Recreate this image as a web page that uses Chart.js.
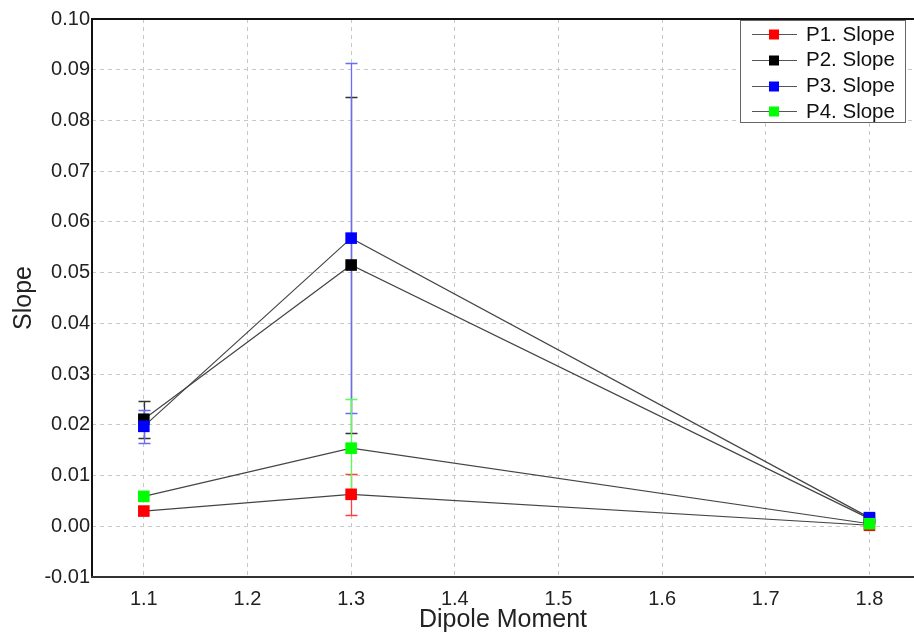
<!DOCTYPE html>
<html>
<head>
<meta charset="utf-8">
<script src="https://cdn.jsdelivr.net/npm/chart.js@4.4.1/dist/chart.umd.min.js"></script>
<style>
html,body{margin:0;padding:0;background:#fff;}
#wrap{width:914px;height:632px;}
</style>
</head>
<body>
<div id="wrap"><canvas id="c" width="914" height="632"></canvas></div>
<script>
// ---- data ----
const dipoleMoments = [1.1, 1.3, 1.8];
const seriesNames = ['P1. Slope', 'P2. Slope', 'P3. Slope', 'P4. Slope'];
const p1Values = [0.0030, 0.0063, 0.0002];
const p2Values = [0.0211, 0.0515, 0.0015];
const p3Values = [0.0197, 0.0568, 0.0017];
const p4Values = [0.0059, 0.0154, 0.0005];
const p1Errors = [0, 0.0040, 0];
const p2Errors = [0.0036, 0.0332, 0];
const p3Errors = [0.0033, 0.0345, 0];
const p4Errors = [0, 0.0096, 0];
const xTickValues = [1.1, 1.2, 1.3, 1.4, 1.5, 1.6, 1.7, 1.8];
const yTickValues = [-0.01, 0.00, 0.01, 0.02, 0.03, 0.04, 0.05, 0.06, 0.07, 0.08, 0.09, 0.10];

const markerColors = ['#ff0000', '#000000', '#0000ff', '#00ff00'];
const errorColors = ['#ff4040', '#333333', '#6a6aff', '#55ff55'];
const errorDrawOrder = [0, 1, 2, 3];
const markerStacking = [3, 2, 1, 0]; // lower = drawn on top
const allValues = [p1Values, p2Values, p3Values, p4Values];
const allErrors = [p1Errors, p2Errors, p3Errors, p4Errors];

const FONT = "'Liberation Sans', Arial, Helvetica, sans-serif";

const datasets = allValues.map((vals, i) => ({
  label: seriesNames[i],
  order: markerStacking[i],
  data: dipoleMoments.map((x, j) => ({x: x, y: vals[j]})),
  borderColor: '#444444',
  borderWidth: 1.2,
  backgroundColor: markerColors[i],
  pointBackgroundColor: markerColors[i],
  pointBorderColor: markerColors[i],
  pointBorderWidth: 0,
  pointStyle: 'rect',
  pointRadius: 8.2,
  pointHoverRadius: 8.2,
  tension: 0,
  fill: false,
  clip: false
}));

const errorBars = {
  id: 'errorBars',
  beforeDatasetsDraw(chart) {
    const ctx = chart.ctx;
    const xs = chart.scales.x, ys = chart.scales.y;
    ctx.save();
    ctx.setLineDash([]);
    ctx.lineWidth = 1.3;
    errorDrawOrder.forEach(i => {
      const vals = allValues[i], errs = allErrors[i];
      ctx.strokeStyle = errorColors[i];
      dipoleMoments.forEach((xv, j) => {
        const e = errs[j];
        if (!e) return;
        const px = Math.round(xs.getPixelForValue(xv)) + 0.5;
        const yt = Math.round(ys.getPixelForValue(vals[j] + e)) + 0.5;
        const yb = Math.round(ys.getPixelForValue(vals[j] - e)) + 0.5;
        ctx.beginPath();
        ctx.moveTo(px, yt); ctx.lineTo(px, yb);
        ctx.moveTo(px - 6, yt); ctx.lineTo(px + 6, yt);
        ctx.moveTo(px - 6, yb); ctx.lineTo(px + 6, yb);
        ctx.stroke();
      });
    });
    ctx.restore();
  }
};

const frameAndLegend = {
  id: 'frameAndLegend',
  afterDraw(chart) {
    const ctx = chart.ctx;
    const a = chart.chartArea;
    ctx.save();
    ctx.setLineDash([]);
    // frame
    ctx.strokeStyle = '#111';
    ctx.lineWidth = 2;
    ctx.beginPath();
    ctx.moveTo(a.left, a.top); ctx.lineTo(a.right, a.top);
    ctx.moveTo(a.left, a.top - 1); ctx.lineTo(a.left, a.bottom + 1);
    ctx.stroke();
    ctx.strokeStyle = '#333';
    ctx.beginPath();
    ctx.moveTo(a.left - 1, a.bottom); ctx.lineTo(a.right, a.bottom);
    ctx.stroke();
    // legend
    const bx = 740.5, by = 20.5, bw = 165, bh = 102;
    ctx.fillStyle = '#fff';
    ctx.fillRect(bx, by, bw, bh);
    ctx.strokeStyle = '#666';
    ctx.lineWidth = 1;
    ctx.strokeRect(bx, by, bw, bh);
    ctx.font = '20.5px ' + FONT;
    ctx.textBaseline = 'middle';
    ctx.textAlign = 'left';
    seriesNames.forEach((name, i) => {
      const cy = 34 + i * 25.8;
      ctx.strokeStyle = '#555';
      ctx.lineWidth = 1.2;
      ctx.beginPath();
      ctx.moveTo(752, Math.round(cy) + 0.5); ctx.lineTo(797, Math.round(cy) + 0.5);
      ctx.stroke();
      ctx.fillStyle = markerColors[i];
      ctx.fillRect(769, Math.round(cy) - 4.5, 10, 10);
      ctx.fillStyle = '#111';
      ctx.fillText(name, 806, cy + 1);
    });
    ctx.restore();
  }
};

new Chart(document.getElementById('c'), {
  type: 'line',
  data: {datasets: datasets},
  plugins: [errorBars, frameAndLegend],
  options: {
    responsive: false,
    animation: false,
    devicePixelRatio: 1,
    layout: {autoPadding: false, padding: {top: 19, right: 0, left: 0, bottom: 0}},
    plugins: {legend: {display: false}, tooltip: {enabled: false}},
    scales: {
      x: {
        type: 'linear',
        min: 1.05,
        max: 1.843,
        afterBuildTicks: s => { s.ticks = xTickValues.map(v => ({value: v})); },
        afterFit: s => { s.height = 55; s.paddingRight = 0; s.paddingLeft = 0; },
        grid: {color: '#c8c8c8', lineWidth: 1, drawTicks: false},
        border: {display: false, dash: [4, 4]},
        ticks: {
          padding: 10,
          color: '#222',
          font: {family: FONT, size: 20},
          callback: v => Number(v).toFixed(1)
        },
        title: {
          display: true,
          text: 'Dipole Moment',
          color: '#222',
          font: {family: FONT, size: 25},
          padding: {top: 0, bottom: -3}
        }
      },
      y: {
        type: 'linear',
        min: -0.01,
        max: 0.10,
        afterBuildTicks: s => { s.ticks = yTickValues.map(v => ({value: v})); },
        afterFit: s => { s.width = 92; },
        grid: {color: '#c8c8c8', lineWidth: 1, drawTicks: false},
        border: {display: false, dash: [4, 4]},
        ticks: {
          padding: 2,
          color: '#222',
          font: {family: FONT, size: 20},
          callback: v => Number(v).toFixed(2)
        },
        title: {
          display: true,
          text: 'Slope',
          color: '#222',
          font: {family: FONT, size: 25},
          padding: {top: 9, bottom: 0}
        }
      }
    }
  }
});
</script>
</body>
</html>
